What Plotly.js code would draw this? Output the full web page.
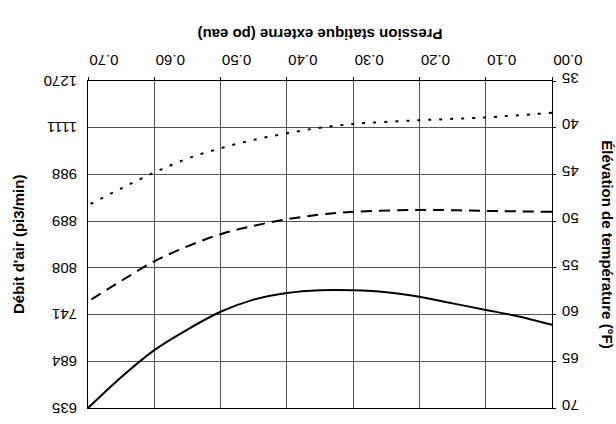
<!DOCTYPE html>
<html>
<head>
<meta charset="utf-8">
<script src="https://cdn.plot.ly/plotly-3.0.1.min.js"></script>
<style>
  html, body { margin: 0; padding: 0; background: #fff; overflow: hidden; }
  #chart { width: 616px; height: 424px; transform: rotate(180deg); transform-origin: 50% 50%; }
</style>
</head>
<body>
<div id="chart"></div>
<script>
// Data (the reference picture is shown rotated 180°)
const pressureTicks = [0, 0.1, 0.2, 0.3, 0.4, 0.5, 0.6, 0.7];
const tempTicks = [35, 40, 45, 50, 55, 60, 65, 70];
const airflowLabels = ['1270', '1111', '988', '889', '808', '741', '684', '635'];

const solidP = [0, 0.05, 0.1, 0.15, 0.2, 0.25, 0.3, 0.35, 0.4, 0.45, 0.5, 0.55, 0.6, 0.65, 0.7];
const solidT = [61.1, 60.2, 59.5, 58.8, 58.1, 57.6, 57.4, 57.4, 57.7, 58.4, 59.7, 61.6, 63.8, 66.7, 70.0];

const dashP = [0, 0.1, 0.2, 0.3, 0.35, 0.4, 0.45, 0.5, 0.55, 0.6, 0.65, 0.7];
const dashT = [49.0, 48.9, 48.8, 49.0, 49.3, 49.8, 50.5, 51.4, 52.7, 54.3, 56.4, 58.6];

const dotP = [0, 0.1, 0.2, 0.3, 0.35, 0.4, 0.45, 0.5, 0.55, 0.6, 0.65, 0.7];
const dotT = [38.4, 38.9, 39.2, 39.6, 40.0, 40.6, 41.3, 42.2, 43.3, 44.8, 46.5, 48.3];

const FONT = 'Liberation Sans, Arial, sans-serif';
const TICK = { family: FONT, size: 15, color: '#000' };
const TITLE = { family: FONT, size: 15, weight: 'bold', color: '#000' };

const traces = [
  { x: solidP, y: solidT, mode: 'lines', line: { color: '#000', width: 2, shape: 'spline', smoothing: 0.9 }, showlegend: false, hoverinfo: 'skip' },
  { x: dashP, y: dashT, mode: 'lines', line: { color: '#000', width: 2, shape: 'spline', dash: '11px,7px' }, showlegend: false, hoverinfo: 'skip' },
  { x: dotP, y: dotT, mode: 'lines', line: { color: '#000', width: 2, shape: 'spline', dash: '3px,8px' }, showlegend: false, hoverinfo: 'skip' },
  { x: [null], y: [null], yaxis: 'y2', mode: 'lines', showlegend: false, hoverinfo: 'skip' }
];

const layout = {
  width: 616, height: 424,
  margin: { l: 64, r: 88, t: 16, b: 81 },
  paper_bgcolor: '#fff', plot_bgcolor: '#fff',
  font: { family: FONT, size: 15, color: '#000' },
  showlegend: false,
  xaxis: {
    range: [0, 0.7], tickvals: pressureTicks, tickformat: '.2f',
    showgrid: true, gridcolor: '#555', gridwidth: 1, zeroline: false,
    showline: true, linecolor: '#000', linewidth: 1, mirror: true,
    ticks: 'outside', ticklen: 3, tickcolor: '#000',
    ticklabelshift: -16, ticklabelstandoff: 4,
    tickfont: TICK,
    title: { text: 'Pression statique externe (po eau)', font: TITLE, standoff: 13 }
  },
  yaxis: {
    range: [35, 70], tickvals: tempTicks,
    showgrid: true, gridcolor: '#555', gridwidth: 1, zeroline: false,
    showline: true, linecolor: '#000', linewidth: 1, mirror: true,
    ticks: 'outside', ticklen: 3, tickcolor: '#000',
    ticklabelshift: 3, ticklabelstandoff: 3,
    tickfont: TICK,
    title: { text: 'Élévation de température (°F)', font: TITLE, standoff: 20 }
  },
  yaxis2: {
    overlaying: 'y', side: 'right', range: [35, 70],
    tickvals: tempTicks, ticktext: airflowLabels,
    showgrid: false, zeroline: false, showline: false,
    ticks: '', ticklabelstandoff: 10,
    tickfont: TICK
  },
  annotations: [
    { text: "Débit d'air (pi3/min)", xref: 'paper', yref: 'paper', x: 1, y: 0.5,
      xshift: 80, textangle: 90, showarrow: false, font: TITLE }
  ]
};

Plotly.newPlot('chart', traces, layout, { staticPlot: true, displayModeBar: false });
</script>
</body>
</html>
